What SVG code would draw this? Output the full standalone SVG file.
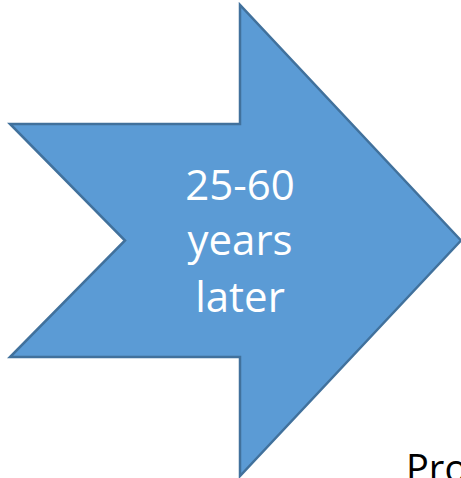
<svg xmlns="http://www.w3.org/2000/svg" width="461" height="478" viewBox="0 0 461 478">
<style>
.arrow{fill:#5B9BD5;stroke:#41719C;stroke-width:2.5;stroke-linejoin:miter}
.lbl{font-family:"Open Sans","Liberation Sans",sans-serif;font-size:42px;fill:#FFFFFF;text-anchor:middle}
.ext{font-family:"Open Sans","Liberation Sans",sans-serif;font-size:38px;fill:#000000}
</style>
<rect width="461" height="478" fill="#FFFFFF"/>
<g id="arrow-node">
<polygon class="arrow" points="10,124 240,124 240,5 461,240.5 240,476 240,357 10,357 125,240.5"/>
<text class="lbl" x="240" y="200">25-60</text>
<text class="lbl" x="240" y="255">years</text>
<text class="lbl" x="240" y="312">later</text>
</g>
<g id="connectors"></g>
<g id="partial-text">
<text class="ext" x="406" y="482">Pro</text>
</g>
</svg>
